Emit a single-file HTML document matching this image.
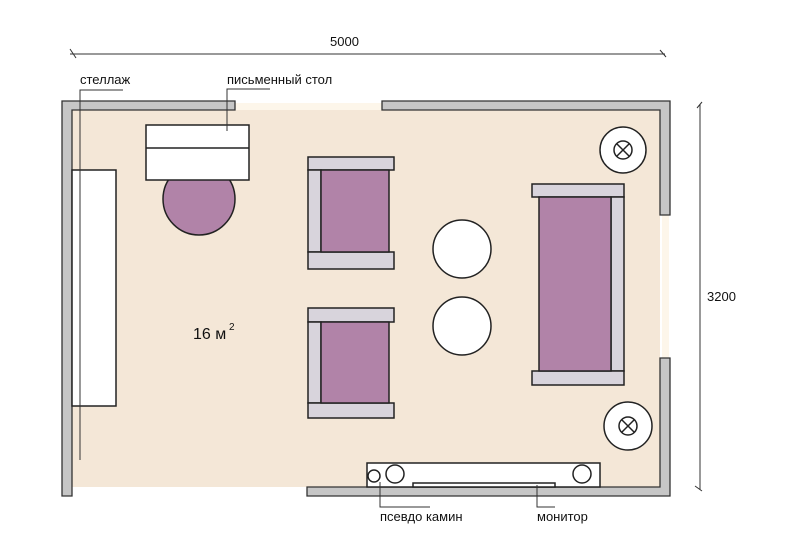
<!DOCTYPE html>
<html><head><meta charset="utf-8"><style>body{margin:0;background:#fff}svg{display:block}text{font-family:"Liberation Sans",sans-serif;fill:#111}</style></head><body>
<svg width="795" height="556" viewBox="0 0 795 556" xmlns="http://www.w3.org/2000/svg">
<rect x="72" y="110" width="588" height="377" fill="#f4e7d7"/>
<rect x="235" y="103" width="147" height="7" fill="#fdf6ea"/>
<rect x="662" y="215" width="7" height="143" fill="#fdf6ea"/>
<g fill="#c6c6c6" stroke="#333" stroke-width="1.3">
<path d="M62 101 H235 V110 H72 V496 H62 Z"/>
<path d="M382 101 H670 V215 H660 V110 H382 Z"/>
<path d="M660 358 H670 V496 H307 V487 H660 Z"/>
</g>
<g stroke="#222" stroke-width="1.5">
<rect x="72" y="170" width="44" height="236" fill="#fff"/>
<circle cx="199" cy="199" r="36" fill="#b183a8"/>
<rect x="146" y="125" width="103" height="55" fill="#fff"/>
<line x1="146" y1="148" x2="249" y2="148"/>
<g fill="#d8d4dc">
<rect x="308" y="157" width="86" height="13"/><rect x="308" y="170" width="13" height="82"/><rect x="308" y="252" width="86" height="17"/>
<rect x="308" y="308" width="86" height="14"/><rect x="308" y="322" width="13" height="81"/><rect x="308" y="403" width="86" height="15"/>
<rect x="532" y="184" width="92" height="13"/><rect x="611" y="197" width="13" height="174"/><rect x="532" y="371" width="92" height="14"/>
</g>
<g fill="#b183a8">
<rect x="321" y="170" width="68" height="82"/><rect x="321" y="322" width="68" height="81"/><rect x="539" y="197" width="72" height="174"/>
</g>
<circle cx="462" cy="249" r="29" fill="#fff"/><circle cx="462" cy="326" r="29" fill="#fff"/>
<circle cx="623" cy="150" r="23" fill="#fff"/><circle cx="623" cy="150" r="9" fill="none"/>
<line x1="617" y1="144" x2="629" y2="156"/><line x1="629" y1="144" x2="617" y2="156"/>
<circle cx="628" cy="426" r="24" fill="#fff"/><circle cx="628" cy="426" r="9" fill="none"/>
<line x1="622" y1="420" x2="634" y2="432"/><line x1="634" y1="420" x2="622" y2="432"/>
<rect x="367" y="463" width="233" height="24" fill="#fff"/>
<circle cx="374" cy="476" r="6" fill="#fff"/><circle cx="395" cy="474" r="9" fill="#fff"/><circle cx="582" cy="474" r="9" fill="#fff"/>
<rect x="413" y="483" width="142" height="4" fill="#fff"/>
</g>
<g stroke="#333" stroke-width="1" fill="none">
<path d="M123 90 H80 V460"/><path d="M270 89 H227 V131"/>
<path d="M380 482 V507 H430"/><path d="M537 485 V507 H555"/>
<line x1="70" y1="54" x2="665" y2="54"/><line x1="70" y1="49" x2="76" y2="58"/><line x1="660" y1="50" x2="666" y2="57"/>
<line x1="700" y1="104" x2="700" y2="490"/><line x1="697" y1="108" x2="702" y2="102"/><line x1="695" y1="486" x2="702" y2="491"/>
</g>
<g font-size="13">
<text x="330" y="46">5000</text><text x="707" y="301">3200</text>
<text x="80" y="84">стеллаж</text><text x="227" y="84">письменный стол</text>
<text x="380" y="521">псевдо камин</text><text x="537" y="521">монитор</text>
</g>
<text x="193" y="339" font-size="16">16 м</text><text x="229" y="330" font-size="10">2</text>
</svg>
</body></html>
